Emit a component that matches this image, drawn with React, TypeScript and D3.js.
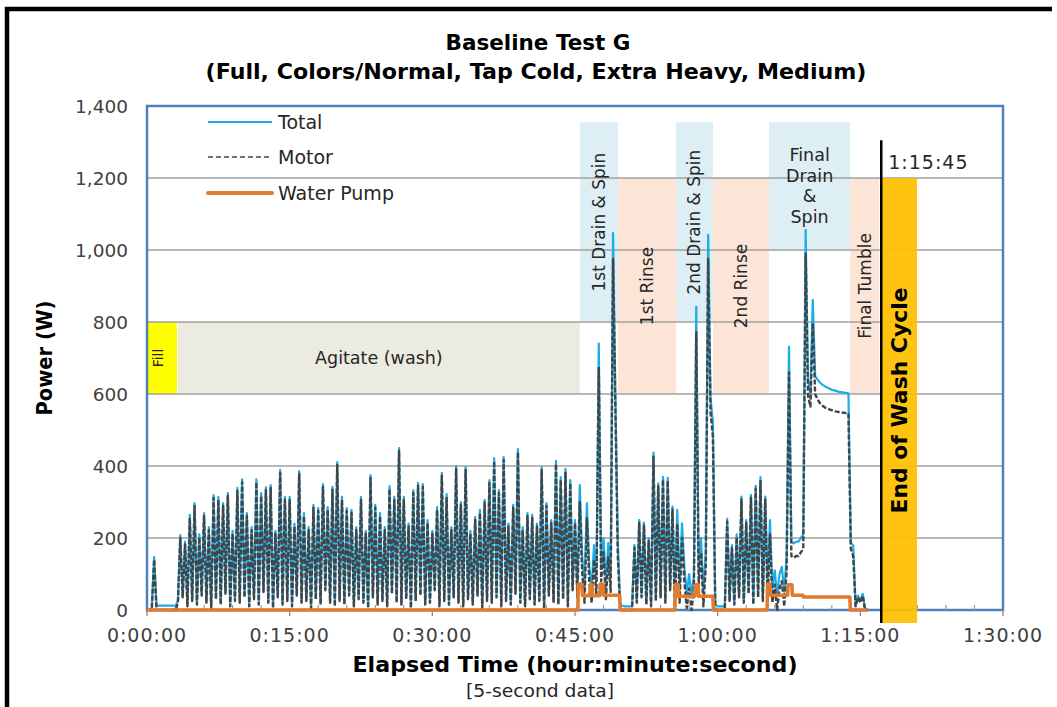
import React from "react";
import * as d3 from "d3";

// ---------- DATA ----------
// Sample spacing of the power series (minutes): 15-second samples
const SAMPLE_MINUTES = 0.25;

// Total power (W), one value per 15-second sample, starting at 0:00:00
const totalW: number[] = [
  0, 0, 5, 147, 12, 12, 12, 12, 12, 12,
  12, 12, 12, 25, 208, 40, 190, 15, 264, 30,
  297, 20, 210, 45, 269, 25, 230, 10, 319, 35,
  314, 20, 297, 50, 325, 15, 220, 30, 339, 25,
  363, 40, 269, 15, 230, 35, 363, 20, 325, 55,
  341, 25, 347, 10, 220, 40, 389, 20, 314, 30,
  314, 15, 240, 45, 386, 25, 269, 30, 230, 10,
  292, 35, 283, 20, 350, 60, 286, 25, 342, 15,
  411, 30, 314, 20, 283, 45, 278, 15, 230, 35,
  314, 25, 220, 10, 375, 40, 292, 20, 269, 30,
  230, 15, 344, 50, 314, 25, 450, 20, 314, 35,
  240, 10, 333, 30, 353, 45, 350, 20, 250, 25,
  220, 60, 286, 15, 381, 30, 322, 20, 230, 40,
  400, 25, 300, 15, 397, 35, 220, 20, 258, 45,
  278, 10, 306, 30, 361, 25, 422, 40, 333, 15,
  425, 30, 240, 20, 292, 50, 447, 25, 230, 15,
  269, 35, 264, 20, 240, 30, 397, 10, 297, 45,
  250, 25, 414, 20, 369, 35, 392, 15, 361, 60,
  250, 40, 347, 150, 60, 297, 120, 60, 180, 80,
  740, 120, 200, 70, 186, 90, 1047, 590, 190, 15,
  12, 10, 10, 10, 10, 181, 25, 250, 40, 243,
  20, 200, 15, 437, 30, 352, 40, 370, 25, 367,
  60, 287, 40, 278, 60, 241, 120, 45, 100, 40,
  95, 842, 110, 200, 50, 160, 1042, 590, 520, 15,
  10, 10, 10, 10, 253, 30, 180, 20, 210, 40,
  315, 25, 250, 50, 320, 20, 345, 40, 369, 30,
  315, 60, 250, 60, 110, 40, 100, 120, 50, 150,
  731, 190, 185, 190, 190, 200, 210, 1056, 640, 600,
  861, 650, 640, 632, 626, 622, 618, 615, 612, 610,
  608, 606, 605, 604, 603, 602, 186, 180, 15, 40,
  25, 45, 5, 0,
];

// Motor power (W), same sampling
const motorW: number[] = [
  0, 0, 0, 140, 0, 0, 0, 0, 0, 0,
  0, 0, 0, 20, 200, 35, 182, 10, 256, 25,
  289, 15, 202, 40, 261, 20, 222, 5, 311, 30,
  306, 15, 289, 45, 317, 10, 212, 25, 331, 20,
  355, 35, 261, 10, 222, 30, 355, 15, 317, 50,
  333, 20, 339, 5, 212, 35, 381, 15, 306, 25,
  306, 10, 232, 40, 378, 20, 261, 25, 222, 5,
  284, 30, 275, 15, 342, 55, 278, 20, 334, 10,
  403, 25, 306, 15, 275, 40, 270, 10, 222, 30,
  306, 20, 212, 5, 367, 35, 284, 15, 261, 25,
  222, 10, 336, 45, 306, 20, 442, 15, 306, 30,
  232, 5, 325, 25, 345, 40, 342, 15, 242, 20,
  212, 55, 278, 10, 373, 25, 314, 15, 222, 35,
  392, 20, 292, 10, 389, 30, 212, 15, 250, 40,
  270, 5, 298, 25, 353, 20, 414, 35, 325, 10,
  417, 25, 232, 15, 284, 45, 439, 20, 222, 10,
  261, 30, 256, 15, 232, 25, 389, 5, 289, 40,
  242, 20, 406, 15, 361, 30, 384, 10, 353, 55,
  242, 35, 300, 105, 20, 255, 80, 20, 140, 40,
  675, 80, 160, 30, 146, 50, 975, 550, 150, 0,
  0, 0, 0, 0, 0, 173, 20, 242, 35, 235,
  15, 192, 10, 429, 25, 344, 35, 362, 20, 359,
  55, 279, 0, 240, 20, 200, 80, 5, 60, 0,
  55, 772, 70, 160, 10, 120, 975, 550, 480, 0,
  0, 0, 0, 0, 245, 25, 172, 15, 202, 35,
  307, 20, 242, 45, 312, 15, 337, 35, 361, 25,
  307, 20, 210, 20, 70, 0, 60, 80, 10, 110,
  660, 150, 145, 150, 150, 160, 170, 990, 595, 565,
  797, 600, 585, 575, 568, 563, 560, 557, 555, 553,
  551, 550, 549, 548, 547, 546, 170, 150, 10, 35,
  20, 40, 0, 0,
];

// Water pump (W) as [minute, watts] breakpoints
const pumpPts: [number, number][] = [
  [0, 0], [45.3, 0], [45.35, 72], [45.7, 72], [45.8, 40], [46.55, 40], [46.6, 70], [46.8, 70],
  [46.85, 40], [47.6, 40], [47.65, 72], [47.95, 72], [48.0, 41], [49.7, 41], [49.75, 0],
  [55.5, 0], [55.55, 70], [55.85, 70], [55.9, 38], [57.6, 38], [57.65, 70], [57.95, 70],
  [58.0, 38], [59.5, 38], [59.55, 0], [65.2, 0], [65.25, 72], [65.5, 72], [65.55, 41],
  [67.35, 41], [67.4, 70], [67.8, 70], [67.85, 41], [68.95, 41], [69.0, 36], [73.9, 36],
  [73.95, 0], [75.75, 0],
];

// Axis ticks
const xTickMinutes = [0, 15, 30, 45, 60, 75, 90];
const xTickLabels = ["0:00:00", "0:15:00", "0:30:00", "0:45:00", "1:00:00", "1:15:00", "1:30:00"];
const xMinorTickMinutes = [3, 6, 9, 12, 18, 21, 24, 27, 33, 36, 39, 42, 48, 51, 54, 57, 63, 66, 69, 72, 78, 81, 84, 87];
const yTicks = [0, 200, 400, 600, 800, 1000, 1200, 1400];

// Cycle phases (minutes, watt range of the marker band)
const phaseNames = ["Fill", "Agitate (wash)", "1st Drain & Spin", "1st Rinse", "2nd Drain & Spin", "2nd Rinse", "Final|Drain|&|Spin", "Final Tumble"];
const phaseStart = [0, 3.26, 45.53, 49.52, 55.62, 59.51, 65.4, 73.93];
const phaseEnd = [3.15, 45.5, 49.52, 55.62, 59.51, 65.4, 73.93, 76.96];
const phaseLow = [600, 600, 800, 600, 800, 600, 1000, 600];
const phaseHigh = [800, 800, 1355, 1200, 1355, 1200, 1355, 1200];
const phaseKind = ["fill", "wash", "spin", "rinse", "spin", "rinse", "spin", "rinse"];

// End of wash cycle marker
const endMarkerMinute = 77.2;
const endMarkerLabel = "1:15:45";
const endBarStart = 77.2;
const endBarEnd = 80.96;
const endBarLow = -36;
const endBarHigh = 1200;
const endLineTop = 1305;

const seriesNames = ["Total", "Motor", "Water Pump"];

// ---------- STYLES ----------
const FONT = "'DejaVu Sans', Verdana, sans-serif";
const C_TOTAL = "#1EACE6";
const C_MOTOR = "#444444";
const C_PUMP = "#E07B2F";
const C_FRAME = "#4F81BD";
const C_GRID = "#A0A0A0";
const bandFill: Record<string, string> = {
  fill: "#FFFF00",
  wash: "#ECEBE1",
  spin: "#DDEEF4",
  rinse: "#FCE5D7",
};

export default function App() {
  const W = 1057;
  const H = 707;
  const plot = { left: 147, right: 1003, top: 106, bottom: 610 };

  const x = d3.scaleLinear().domain([0, 90]).range([plot.left, plot.right]);
  const y = d3.scaleLinear().domain([0, 1400]).range([plot.bottom, plot.top]);

  const sampleLine = d3
    .line<number>()
    .x((_, i) => x(i * SAMPLE_MINUTES))
    .y((d) => y(d));
  const ptLine = d3
    .line<[number, number]>()
    .x((d) => x(d[0]))
    .y((d) => y(d[1]));

  const fmt = d3.format(",");

  const legendX0 = 208;
  const legendX1 = 272;
  const legendY = [122, 157, 193];

  return (
    <svg
      width={W}
      height={H}
      style={{ position: "absolute", left: 0, top: 0, background: "#fff" }}
      fontFamily={FONT}
    >
      <rect x={0} y={0} width={W} height={H} fill="#fff" />
      {/* outer frame */}
      <path d={`M7,${H + 5} V9 H1052`} fill="none" stroke="#000" strokeWidth={4.5} />

      {/* title */}
      <text x={538} y={50} textAnchor="middle" fontWeight="bold" fontSize={21} textLength={185} lengthAdjust="spacingAndGlyphs" fill="#000">
        Baseline Test G
      </text>
      <text x={536} y={79} textAnchor="middle" fontWeight="bold" fontSize={21} textLength={661} lengthAdjust="spacingAndGlyphs" fill="#000">
        (Full, Colors/Normal, Tap Cold, Extra Heavy, Medium)
      </text>

      {/* phase bands */}
      {phaseNames.map((n, i) => (
        <rect
          key={"b" + i}
          x={x(phaseStart[i])}
          y={y(phaseHigh[i])}
          width={x(phaseEnd[i]) - x(phaseStart[i])}
          height={y(phaseLow[i]) - y(phaseHigh[i])}
          fill={bandFill[phaseKind[i]]}
        />
      ))}

      {/* gridlines */}
      {yTicks.filter((t) => t > 0 && t < 1400).map((t) => (
        <line key={"g" + t} x1={plot.left} x2={plot.right} y1={y(t)} y2={y(t)} stroke={C_GRID} strokeWidth={1.5} />
      ))}

      {/* plot frame */}
      <rect
        x={plot.left}
        y={plot.top}
        width={plot.right - plot.left}
        height={plot.bottom - plot.top}
        fill="none"
        stroke={C_FRAME}
        strokeWidth={2.5}
      />
      {/* ticks */}
      {xTickMinutes.map((m) => (
        <line key={"t" + m} x1={x(m)} x2={x(m)} y1={plot.bottom} y2={plot.bottom + 6} stroke="#8C8C8C" strokeWidth={1.3} />
      ))}
      {xMinorTickMinutes.map((m) => (
        <line key={"mt" + m} x1={x(m)} x2={x(m)} y1={plot.bottom} y2={plot.bottom - 5} stroke="#9A9A9A" strokeWidth={1.2} />
      ))}

      {/* data */}
      <path d={sampleLine(totalW) || ""} fill="none" stroke={C_TOTAL} strokeWidth={2.2} strokeLinejoin="round" />
      <path d={sampleLine(motorW) || ""} fill="none" stroke={C_MOTOR} strokeWidth={2.4} strokeDasharray="5,2" strokeLinejoin="round" />
      <path d={ptLine(pumpPts) || ""} fill="none" stroke={C_PUMP} strokeWidth={3.6} strokeLinejoin="round" />

      {/* legend */}
      <line x1={legendX0} x2={legendX1} y1={legendY[0]} y2={legendY[0]} stroke={C_TOTAL} strokeWidth={2} />
      <line x1={legendX0} x2={legendX1} y1={legendY[1]} y2={legendY[1]} stroke={C_MOTOR} strokeWidth={1.6} strokeDasharray="5,3" />
      <line x1={legendX0} x2={legendX1} y1={legendY[2]} y2={legendY[2]} stroke={C_PUMP} strokeWidth={4} strokeLinecap="round" />
      {seriesNames.map((n, i) => (
        <text key={"l" + i} x={278} y={legendY[i] + 7} fontSize={19} fill="#262626">
          {n}
        </text>
      ))}

      {/* phase labels */}
      {phaseNames.map((n, i) => {
        const cx = (x(phaseStart[i]) + x(phaseEnd[i])) / 2;
        const cy = (y(phaseHigh[i]) + y(phaseLow[i])) / 2;
        const kind = phaseKind[i];
        if (kind === "wash") {
          return (
            <text key={"p" + i} x={cx} y={cy + 6} textAnchor="middle" fontSize={17.5} fill="#262626">
              {n}
            </text>
          );
        }
        if (n.includes("|")) {
          const lines = n.split("|");
          return (
            <text key={"p" + i} textAnchor="middle" fontSize={17.5} fill="#262626">
              {lines.map((ln, j) => (
                <tspan key={j} x={cx} y={cy + 6 + (j - (lines.length - 1) / 2) * 20.7}>
                  {ln}
                </tspan>
              ))}
            </text>
          );
        }
        return (
          <text
            key={"p" + i}
            transform={`translate(${kind === "fill" ? cx - 4 : cx},${cy}) rotate(-90)`}
            textAnchor="middle"
            dy="0.35em"
            fontSize={kind === "fill" ? 14 : 17}
            fill="#262626"
          >
            {n}
          </text>
        );
      })}

      {/* end of wash cycle */}
      <rect
        x={x(endBarStart)}
        y={y(endBarHigh)}
        width={x(endBarEnd) - x(endBarStart)}
        height={y(endBarLow) - y(endBarHigh)}
        fill="#FFC000"
        opacity={0.93}
      />
      <line x1={x(endMarkerMinute)} x2={x(endMarkerMinute)} y1={y(endLineTop)} y2={y(endBarLow)} stroke="#000" strokeWidth={2.5} />
      <text x={x(endMarkerMinute) + 7} y={169} fontSize={19} letterSpacing={1} fill="#262626">
        {endMarkerLabel}
      </text>
      <text
        transform={`translate(${(x(endBarStart) + x(endBarEnd)) / 2},${(y(endBarHigh) + y(endBarLow)) / 2}) rotate(-90)`}
        textAnchor="middle"
        dy="0.35em"
        fontWeight="bold"
        fontSize={22}
        textLength={226}
        lengthAdjust="spacingAndGlyphs"
        fill="#000"
      >
        End of Wash Cycle
      </text>

      {/* y tick labels */}
      {yTicks.map((t) => (
        <text key={"yl" + t} x={128} y={y(t) + 6.5} textAnchor="end" fontSize={18.5} fill="#404040">
          {fmt(t)}
        </text>
      ))}
      {/* x tick labels */}
      {xTickMinutes.map((m, i) => (
        <text key={"xl" + m} x={x(m)} y={642} textAnchor="middle" fontSize={19} letterSpacing={1} fill="#404040">
          {xTickLabels[i]}
        </text>
      ))}

      {/* axis titles */}
      <text
        transform="translate(45,358) rotate(-90)"
        textAnchor="middle"
        dy="0.35em"
        fontWeight="bold"
        fontSize={21}
        textLength={115}
        lengthAdjust="spacingAndGlyphs"
        fill="#000"
      >
        Power (W)
      </text>
      <text x={575} y={672} textAnchor="middle" fontWeight="bold" fontSize={21} textLength={445} lengthAdjust="spacingAndGlyphs" fill="#000">
        Elapsed Time (hour:minute:second)
      </text>
      <text x={540} y={697} textAnchor="middle" fontSize={17} textLength={148} lengthAdjust="spacingAndGlyphs" fill="#262626">
        [5-second data]
      </text>
    </svg>
  );
}
